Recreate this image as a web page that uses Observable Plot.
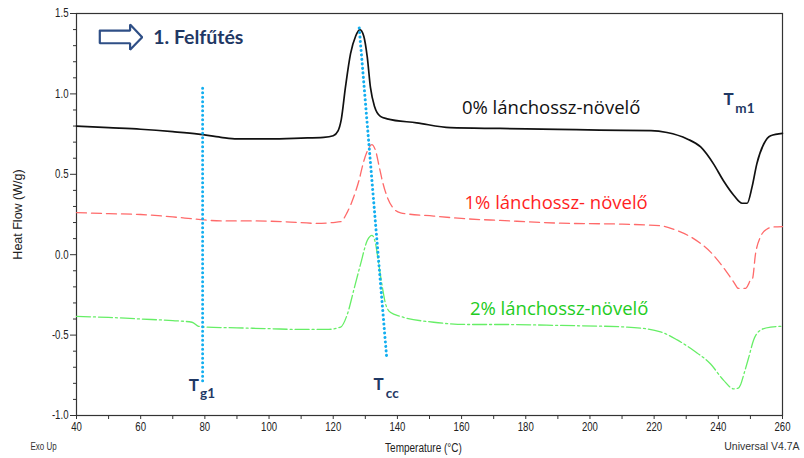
<!DOCTYPE html>
<html>
<head>
<meta charset="utf-8">
<script src="https://cdn.jsdelivr.net/npm/d3@7"></script>
<script src="https://cdn.jsdelivr.net/npm/@observablehq/plot@0.6"></script>
<style>
  html, body { margin: 0; padding: 0; background: #ffffff; }
  #chart svg { display: block; }
</style>
</head>
<body>
<div id="chart"></div>
<script>
// ---- Data ----
// 0% lánchossz-növelő (black, solid)
const temp0 = [40, 50, 60, 70, 78, 85, 90, 100, 110, 117, 120, 121.5, 122.5, 123.8, 125.4, 127, 128.3, 129.5, 130.6, 131.6, 132.9, 134.7, 136.8, 146, 156.5, 172, 190, 203, 219, 224, 230.3, 234.5, 238.5, 241.6, 244.8, 247.4, 249, 250.5, 252, 254.2, 256.3, 260];
const heat0 = [0.80, 0.79, 0.78, 0.765, 0.75, 0.73, 0.72, 0.72, 0.725, 0.73, 0.74, 0.77, 0.84, 1.04, 1.25, 1.36, 1.40, 1.36, 1.23, 1.04, 0.92, 0.86, 0.845, 0.82, 0.79, 0.785, 0.78, 0.775, 0.772, 0.76, 0.72, 0.67, 0.565, 0.46, 0.37, 0.32, 0.32, 0.42, 0.565, 0.69, 0.74, 0.755];

// 1% lánchossz-növelő (red, dashed)
const temp1 = [40, 50, 60, 70, 78, 85, 95, 105, 115, 120, 122.3, 124.4, 126.4, 128, 129.5, 131, 132, 133.3, 134.3, 135.3, 136.8, 138.9, 141, 151.3, 161.7, 172, 190.8, 210, 222, 227.2, 232.3, 237.6, 241.6, 244.8, 246.3, 248.5, 249.5, 250.2, 250.6, 251.6, 253.1, 255.2, 257, 260];
const heat1 = [0.262, 0.255, 0.25, 0.235, 0.22, 0.21, 0.21, 0.205, 0.195, 0.20, 0.205, 0.265, 0.36, 0.46, 0.58, 0.66, 0.685, 0.64, 0.55, 0.46, 0.36, 0.285, 0.26, 0.24, 0.223, 0.213, 0.196, 0.19, 0.18, 0.15, 0.10, 0.016, -0.08, -0.17, -0.21, -0.21, -0.18, -0.15, -0.15, 0.006, 0.11, 0.16, 0.172, 0.175];

// 2% lánchossz-növelő (green, dash-dot)
const temp2 = [40, 50, 60, 70, 76, 78, 80, 90, 100, 110, 118, 122.3, 124.4, 126.4, 128.5, 130.6, 132.1, 133.2, 134.2, 135.3, 136.3, 137.9, 141, 151.3, 161.7, 172, 190.8, 211.6, 222, 227.2, 232.3, 237.6, 241.6, 244.8, 246.2, 246.9, 248, 249.5, 251, 253.1, 256.3, 260];
const heat2 = [-0.384, -0.39, -0.40, -0.41, -0.42, -0.445, -0.45, -0.455, -0.46, -0.465, -0.465, -0.45, -0.37, -0.22, -0.06, 0.088, 0.12, 0.068, -0.06, -0.20, -0.305, -0.36, -0.384, -0.42, -0.434, -0.434, -0.44, -0.45, -0.48, -0.53, -0.596, -0.68, -0.78, -0.834, -0.83, -0.81, -0.74, -0.637, -0.53, -0.47, -0.45, -0.445];

// Axis ticks
const xTickLabels = [40, 60, 80, 100, 120, 140, 160, 180, 200, 220, 240, 260];
const xMinorTicks = [50, 70, 90, 110, 130, 150, 170, 190, 210, 230, 250];
const yTickLabels = [-1.0, -0.5, 0.0, 0.5, 1.0, 1.5];
const yMinorTicks = [-0.9, -0.8, -0.7, -0.6, -0.4, -0.3, -0.2, -0.1, 0.1, 0.2, 0.3, 0.4, 0.6, 0.7, 0.8, 0.9, 1.1, 1.2, 1.3, 1.4];

// Axis titles and footers
const xTitle = "Temperature (°C)";
const yTitle = "Heat Flow (W/g)";
const footLeft = "Exo Up";
const footRight = "Universal V4.7A";

// Curve labels
const curveLabels = ["0% lánchossz-növelő", "1% lánchossz- növelő", "2% lánchossz-növelő"];
const curveLabelT = [160.1, 160.9, 162.6];
const curveLabelV = [0.912, 0.319, -0.338];
const curveLabelColors = ["#111111", "#ff1f1f", "#22cc22"];

// Characteristic temperatures (T with subscript)
const symbolMain = ["T", "T", "T"];
const symbolSub = ["g1", "cc", "m1"];
const symbolMainT = [75.0, 132.55, 241.6];
const symbolMainV = [-0.815, -0.805, 0.962];
const symbolSubT = [78.5, 136.4, 245.3];
const symbolSubV = [-0.862, -0.862, 0.906];

// Dotted guide lines (Tg1 vertical, Tcc slanted through the peaks)
const guideName = ["Tg1", "Tg1", "Tcc", "Tcc"];
const guideT = [79.3, 79.3, 128.1, 136.6];
const guideV = [1.035, -0.80, 1.41, -0.627];

// Heating arrow + title
const titleText = "1. Felfűtés";
const titleT = 63.9;
const titleV = 1.352;
const arrowT = [47.26, 56.7, 56.7, 60.47, 56.7, 56.7, 47.26, 47.26];
const arrowV = [1.394, 1.394, 1.432, 1.353, 1.274, 1.315, 1.315, 1.394];

// ---- Build tables ----
const s0 = temp0.map((t, i) => ({T: t, V: heat0[i]}));
const s1 = temp1.map((t, i) => ({T: t, V: heat1[i]}));
const s2 = temp2.map((t, i) => ({T: t, V: heat2[i]}));
const labels = curveLabels.map((s, i) => ({s, T: curveLabelT[i], V: curveLabelV[i], c: curveLabelColors[i]}));
const mains = symbolMain.map((s, i) => ({s, T: symbolMainT[i], V: symbolMainV[i]}));
const subs = symbolSub.map((s, i) => ({s, T: symbolSubT[i], V: symbolSubV[i]}));
const guides = guideName.map((g, i) => ({g, T: guideT[i], V: guideV[i]}));
const arrow = arrowT.map((t, i) => ({T: t, V: arrowV[i]}));

const NAVY = "#1f3864";
const sans = "'Liberation Sans', Arial, sans-serif";

const chart = Plot.plot({
  width: 804,
  height: 458,
  marginTop: 13,
  marginBottom: 43,
  marginLeft: 76,
  marginRight: 22,
  style: {fontFamily: sans, fontSize: "12px", background: "#ffffff", color: "#222"},
  x: {domain: [40, 260], label: null},
  y: {domain: [-1.0, 1.5], label: null},
  marks: [
    // minor ticks
    Plot.axisX({ticks: xMinorTicks, tickSize: 4, tickFormat: () => "", label: null, stroke: "#333"}),
    Plot.axisY({ticks: yMinorTicks, tickSize: 3, tickFormat: () => "", label: null, stroke: "#333"}),
    // major ticks with labels
    Plot.axisX({ticks: xTickLabels, tickSize: 4, tickPadding: 3, tickFormat: d => String(d), label: null, stroke: "#333", fill: "#222"}),
    Plot.axisY({ticks: yTickLabels, tickSize: 6, tickPadding: 2, tickFormat: d => d.toFixed(1), label: null, stroke: "#333", fill: "#222"}),
    Plot.frame({stroke: "#333", strokeWidth: 1.2}),
    // curves
    Plot.line(s0, {x: "T", y: "V", stroke: "#111111", strokeWidth: 1.7, curve: "monotone-x"}),
    Plot.line(s1, {x: "T", y: "V", stroke: "#ff6a6a", strokeWidth: 1.3, strokeDasharray: "10,5", curve: "monotone-x"}),
    Plot.line(s2, {x: "T", y: "V", stroke: "#66ee66", strokeWidth: 1.3, strokeDasharray: "14,3,2,3", curve: "monotone-x"}),
    // dotted guides
    Plot.line(guides, {x: "T", y: "V", z: "g", stroke: "#12aef0", strokeWidth: 3, strokeDasharray: "0.1,4.4", strokeLinecap: "round"}),
    // heating arrow
    Plot.line(arrow, {x: "T", y: "V", stroke: "#2f4f86", strokeWidth: 2.2, strokeLinejoin: "miter", fill: "none"}),
    Plot.text([titleText], {x: () => titleT, y: () => titleV, text: d => d, textAnchor: "start", lineAnchor: "middle", fill: NAVY, fontSize: 19.5, fontWeight: "bold", fontFamily: "Lato, 'Open Sans', sans-serif"}),
    // curve labels
    Plot.text(labels, {x: "T", y: "V", text: "s", fill: "c", textAnchor: "start", lineAnchor: "middle", fontSize: 18.5, fontFamily: "'Open Sans', 'Noto Sans', sans-serif"}),
    // T symbols
    Plot.text(mains, {x: "T", y: "V", text: "s", textAnchor: "start", lineAnchor: "middle", fill: NAVY, fontSize: 17, fontWeight: "bold", fontFamily: "Lato, 'Open Sans', sans-serif"}),
    Plot.text(subs, {x: "T", y: "V", text: "s", textAnchor: "start", lineAnchor: "middle", fill: NAVY, fontSize: 13.5, fontWeight: "bold", fontFamily: "Lato, 'Open Sans', sans-serif"}),
    // axis titles and footers
    Plot.text([yTitle], {frameAnchor: "left", text: d => d, rotate: -90, dx: -59, textAnchor: "middle", lineAnchor: "middle", fill: "#222", fontSize: 12.5}),
    Plot.text([xTitle], {frameAnchor: "bottom", text: d => d, dx: -6, dy: 32, textAnchor: "middle", lineAnchor: "middle", fill: "#222", fontSize: 12.5}),
    Plot.text([footLeft], {frameAnchor: "bottom-left", text: d => d, dx: -33, dy: 31, textAnchor: "middle", lineAnchor: "middle", fill: "#333", fontSize: 10}),
    Plot.text([footRight], {frameAnchor: "bottom-right", text: d => d, dx: 17, dy: 31, textAnchor: "end", lineAnchor: "middle", fill: "#333", fontSize: 10.5})
  ]
});

document.getElementById("chart").appendChild(chart);

// The reference's horizontal axis texts are condensed; squeeze them in place.
const narrowTexts = new Set([xTitle, footLeft, ...xTickLabels.map(String), ...yTickLabels.map(d => d.toFixed(1))]);
d3.select(chart).selectAll("text").each(function () {
  if (!narrowTexts.has(this.textContent)) return;
  const w = this.getComputedTextLength();
  if (w > 0) {
    this.setAttribute("textLength", (w * 0.8).toFixed(1));
    this.setAttribute("lengthAdjust", "spacingAndGlyphs");
  }
});
</script>
</body>
</html>
